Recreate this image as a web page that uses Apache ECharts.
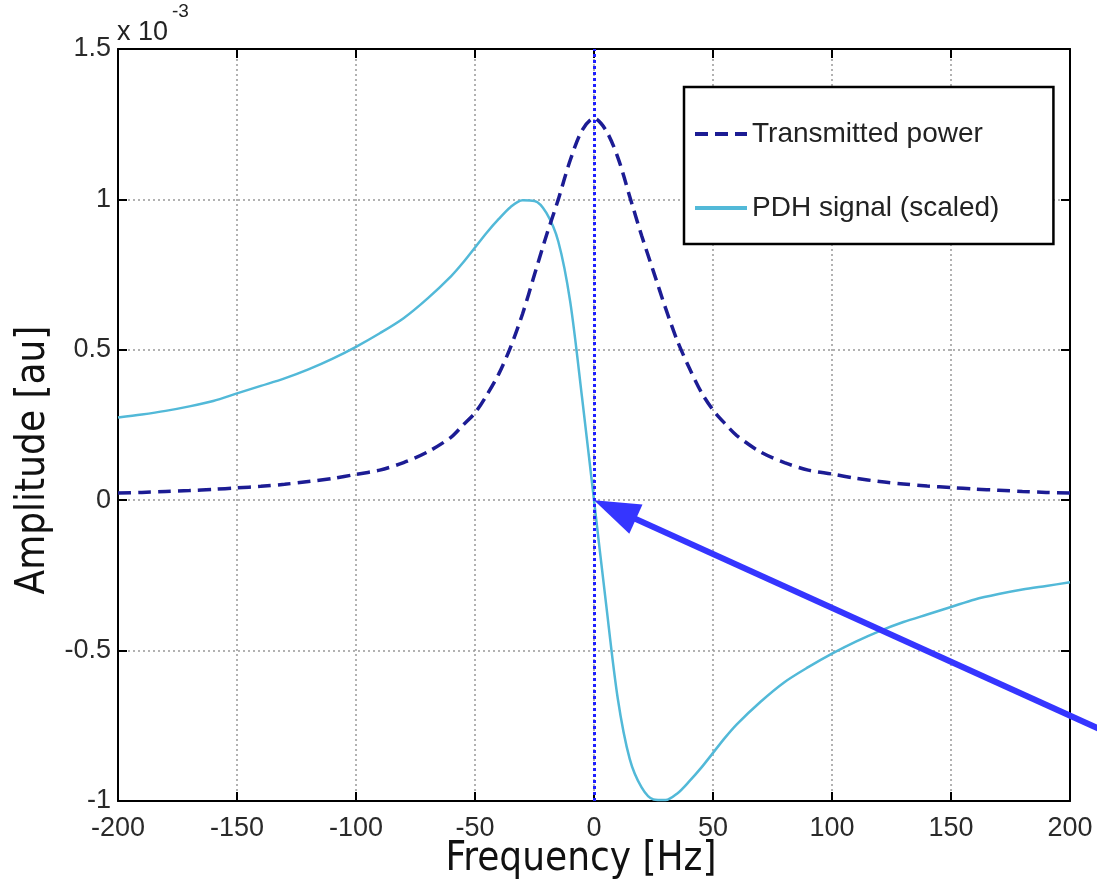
<!DOCTYPE html>
<html>
<head>
<meta charset="utf-8">
<script src="https://cdn.jsdelivr.net/npm/echarts@6/dist/echarts.min.js"></script>
<style>
  html, body { margin: 0; padding: 0; background: #fff; }
  #chart { width: 1097px; height: 881px; }
</style>
</head>
<body>
<div id="chart"></div>
<script>
// frequency (Hz)
const freq = [-200, -190, -180, -170, -160, -150, -140, -130, -120, -110, -100, -90, -80, -70,
  -60, -55, -50, -45, -40, -35, -30, -25, -20, -15, -10, -5, 0, 5, 10, 15, 20, 25, 30, 35, 40,
  45, 50, 55, 60, 70, 80, 90, 100, 110, 120, 130, 140, 150, 160, 170, 180, 190, 200];

// amplitudes in units of 1e-3
const transPower = [0.024, 0.026, 0.029, 0.032, 0.036, 0.041, 0.046, 0.053, 0.062, 0.072, 0.086, 0.10, 0.125, 0.16,
  0.21, 0.25, 0.29, 0.35, 0.42, 0.51, 0.62, 0.75, 0.88, 1.00, 1.13, 1.23, 1.27, 1.23, 1.14, 1.01, 0.88, 0.76, 0.64, 0.53, 0.44,
  0.36, 0.30, 0.255, 0.215, 0.16, 0.125, 0.10, 0.087, 0.073, 0.062, 0.054, 0.047, 0.042, 0.037, 0.033, 0.029, 0.026, 0.024];

const pdhSignal = [0.275, 0.285, 0.297, 0.312, 0.33, 0.355, 0.38, 0.405, 0.435, 0.47, 0.51, 0.555, 0.605, 0.67,
  0.745, 0.79, 0.84, 0.89, 0.935, 0.975, 0.997, 0.995, 0.955, 0.86, 0.66, 0.34, 0, -0.34, -0.66, -0.86, -0.955, -0.995, -0.997, -0.975, -0.935,
  -0.89, -0.84, -0.79, -0.745, -0.67, -0.605, -0.555, -0.51, -0.47, -0.435, -0.405, -0.38, -0.355, -0.33, -0.312, -0.297, -0.285, -0.273];

const xTicks = [-200, -150, -100, -50, 0, 50, 100, 150, 200];
const yTicks = [-1, -0.5, 0, 0.5, 1, 1.5];

// arrow annotation, from outside the right edge to the lock point
const arrowFrom = [215, -0.77];
const arrowTo = [0, 0];

const labelFont = 'Liberation Sans';
const titleFont = '"Liberation Sans Narrow", "DejaVu Sans Condensed", sans-serif';

const chart = echarts.init(document.getElementById('chart'));

function pairs(ys) {
  return freq.map((f, i) => [f, ys[i]]);
}

const boxAxis = {
  axisLine: { show: true, onZero: false, lineStyle: { color: '#000', width: 2 } },
  axisTick: { show: true, inside: true, length: 9, lineStyle: { color: '#000', width: 2 } }
};

const gridLine = { show: true, lineStyle: { color: '#999', width: 1.5, type: [2, 3] } };

const option = {
  animation: false,
  backgroundColor: '#fff',
  grid: { left: 118, right: 27, top: 49, bottom: 80 },
  xAxis: [
    {
      type: 'value', position: 'bottom',
      min: xTicks[0], max: xTicks[xTicks.length - 1], interval: xTicks[1] - xTicks[0],
      ...boxAxis,
      axisLabel: { color: '#2a2a2a', fontFamily: labelFont, fontSize: 27, margin: 14 },
      splitLine: gridLine
    },
    {
      type: 'value', position: 'top',
      min: xTicks[0], max: xTicks[xTicks.length - 1], interval: xTicks[1] - xTicks[0],
      ...boxAxis,
      axisLabel: { show: false },
      splitLine: { show: false }
    }
  ],
  yAxis: [
    {
      type: 'value', position: 'left',
      min: yTicks[0], max: yTicks[yTicks.length - 1], interval: yTicks[1] - yTicks[0],
      ...boxAxis,
      axisLabel: { color: '#2a2a2a', fontFamily: labelFont, fontSize: 27, margin: 7 },
      splitLine: gridLine
    },
    {
      type: 'value', position: 'right',
      min: yTicks[0], max: yTicks[yTicks.length - 1], interval: yTicks[1] - yTicks[0],
      ...boxAxis,
      axisLabel: { show: false },
      splitLine: { show: false }
    }
  ],
  legend: {
    orient: 'vertical',
    left: 684, top: 87,
    backgroundColor: '#fff',
    borderColor: '#000', borderWidth: 2.5,
    padding: [33, 54, 22, 9],
    itemWidth: 52, itemHeight: 26, itemGap: 46,
    itemStyle: { opacity: 0 },
    lineStyle: { width: 4 },
    textStyle: { fontFamily: labelFont, fontSize: 28, color: '#222' },
    data: ['Transmitted power', 'PDH signal (scaled)']
  },
  series: [
    {
      name: 'PDH signal (scaled)',
      type: 'line',
      data: pairs(pdhSignal),
      symbol: 'none',
      smooth: 0.3,
      lineStyle: { color: '#52b9d8', width: 2.5 },
      itemStyle: { color: '#52b9d8' }
    },
    {
      name: 'Transmitted power',
      type: 'line',
      data: pairs(transPower),
      symbol: 'none',
      smooth: 0.3,
      lineStyle: { color: '#1c1c94', width: 3.5, type: [13, 7] },
      itemStyle: { color: '#1c1c94' },
      markLine: {
        silent: true,
        symbol: 'none',
        label: { show: false },
        lineStyle: { color: '#1f1fff', width: 3, type: [3, 3] },
        data: [{ xAxis: 0 }]
      }
    }
  ],
  graphic: [
    {
      type: 'text', left: 117, top: 19,
      style: { text: 'x 10', fontFamily: labelFont, fontSize: 27, fill: '#222' }
    },
    {
      type: 'text', left: 172, top: 2,
      style: { text: '-3', fontFamily: labelFont, fontSize: 19, fill: '#222' }
    },
    {
      type: 'text', x: 581, y: 860,
      style: { text: 'Frequency [Hz]', font: '40px ' + titleFont, fill: '#111',
        textAlign: 'center', textVerticalAlign: 'middle' }
    },
    {
      type: 'text', x: 34, y: 460, rotation: Math.PI / 2,
      style: { text: 'Amplitude [au]', font: '40px ' + titleFont, fill: '#111',
        textAlign: 'center', textVerticalAlign: 'middle' }
    }
  ]
};

chart.setOption(option);

// arrow drawn in pixel space from data coordinates
const tip = chart.convertToPixel({ xAxisIndex: 0, yAxisIndex: 0 }, arrowTo);
const tail = chart.convertToPixel({ xAxisIndex: 0, yAxisIndex: 0 }, arrowFrom);
const dx = tip[0] - tail[0], dy = tip[1] - tail[1];
const len = Math.sqrt(dx * dx + dy * dy);
const ux = dx / len, uy = dy / len;
const headLen = 46, headHalf = 16;
const bx = tip[0] - ux * headLen, by = tip[1] - uy * headLen;
chart.setOption({
  graphic: option.graphic.concat([
    {
      type: 'line', z: 100,
      shape: { x1: tail[0], y1: tail[1], x2: bx + ux * 2, y2: by + uy * 2 },
      style: { stroke: '#3535ff', lineWidth: 6 }
    },
    {
      type: 'polygon', z: 100,
      shape: { points: [[tip[0], tip[1]], [bx - uy * headHalf, by + ux * headHalf], [bx + uy * headHalf, by - ux * headHalf]] },
      style: { fill: '#3535ff' }
    }
  ])
});
</script>
</body>
</html>
